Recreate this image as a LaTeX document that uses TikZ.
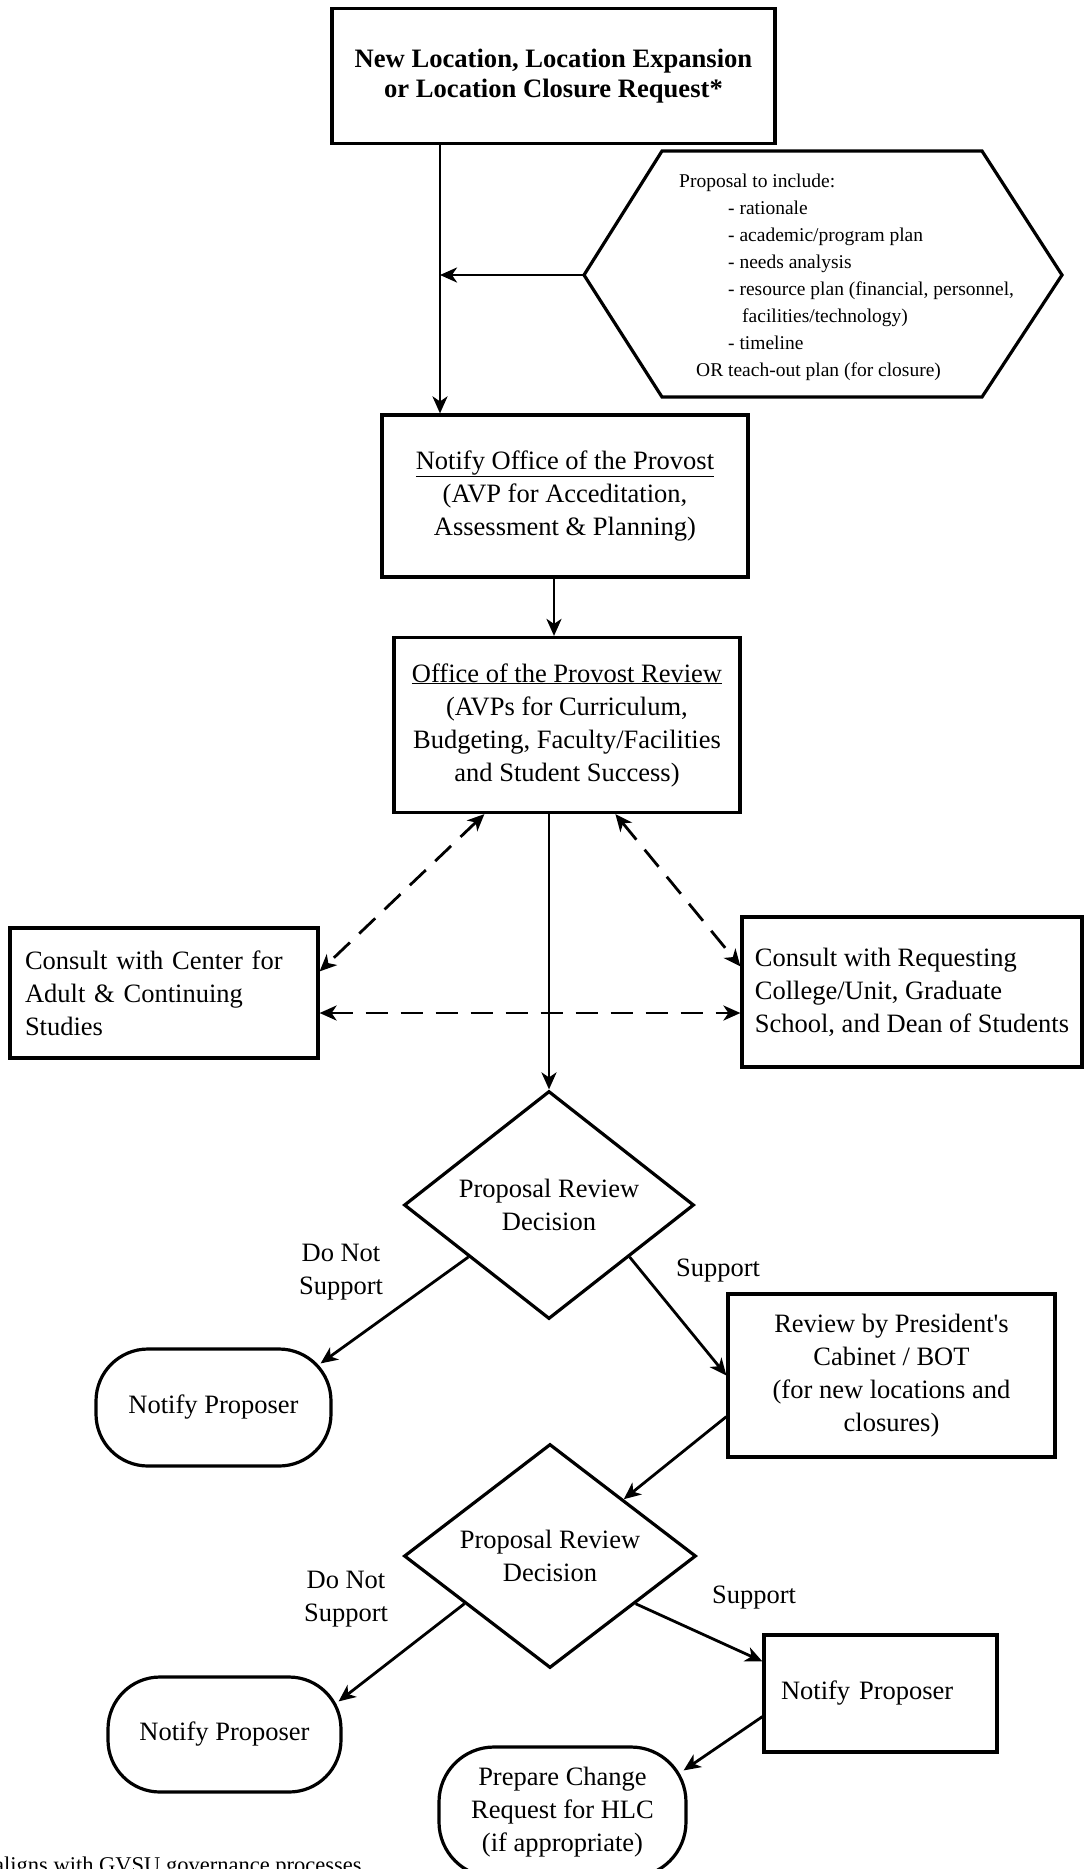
\documentclass[tikz,border=0pt]{standalone}
\usepackage{fontspec}
\setmainfont{Liberation Serif}
\usetikzlibrary{arrows.meta,calc,shapes.geometric}
\newcommand\fsM{\fontsize{26.5}{33}\selectfont}
\newcommand\fsB{\fontsize{26.6}{30}\selectfont\bfseries}
\newcommand\fsS{\fontsize{19.5}{27}\selectfont}
\tikzset{
  box/.style={draw, line width=3.2pt, inner sep=0pt, align=center, font=\fsM},
  stadium/.style={box, rounded corners=52pt},
  dec/.style={draw, diamond, shape aspect=1.3, line width=3.2pt, inner sep=0pt, align=center, font=\fsM},
  lbl/.style={font=\fsM, align=center, inner sep=0pt},
  arr/.style={line width=2.8pt, -{Stealth[length=17pt,width=15pt,inset=5pt]}},
  darr/.style={line width=2.8pt, dash pattern=on 22pt off 13pt, {Stealth[length=17pt,width=15pt,inset=5pt]}-{Stealth[length=17pt,width=15pt,inset=5pt]}}
}
\begin{document}
\begin{tikzpicture}[x=1pt,y=-1pt]
\useasboundingbox (0,0) rectangle (1084,1869);

% top request box
\node[box, font=\fsB, minimum width=443pt, minimum height=135pt] (req) at (553.5,76) {New Location, Location Expansion\\or Location Closure Request*};

% hexagon
\coordinate (hexL) at (584,275);
\draw[line width=3.2pt, line join=miter] (hexL) -- (662,151) -- (982,151) -- (1062,275) -- (982,397) -- (662,397) -- cycle;
\node[font=\fsS, align=left, anchor=west, inner sep=0pt] (hex) at (679,277) {Proposal to include:\\
\hspace*{49pt}- rationale\\
\hspace*{49pt}- academic/program plan\\
\hspace*{49pt}- needs analysis\\
\hspace*{49pt}- resource plan (financial, personnel,\\
\hspace*{63pt}facilities/technology)\\
\hspace*{49pt}- timeline\\
\hspace*{17pt}OR teach-out plan (for closure)};

\coordinate (j1) at (440,275);

% provost boxes
\node[box, minimum width=366pt, minimum height=162pt] (prov) at (565,496) {\underline{Notify Office of the Provost}\\(AVP for Acceditation,\\Assessment \& Planning)};
\node[box, minimum width=346pt, minimum height=175pt] (rev) at (567,725) {\underline{Office of the Provost Review}\\(AVPs for Curriculum,\\Budgeting, Faculty/Facilities\\and Student Success)};

% consult boxes
\node[box, minimum width=308pt, minimum height=130pt, text width=278pt, inner xsep=15pt, align=left] (cace) at (164,993) {Consult with Center for\\Adult \& Continuing\\Studies};
\node[box, minimum width=340pt, minimum height=150pt, align=left] (crc) at (912,992) {Consult with Requesting\\College/Unit, Graduate\\School, and Dean of Students};

% decisions
\node[dec, minimum width=290pt, minimum height=228pt] (d1) at (549,1205) {Proposal Review\\Decision};
\node[dec, minimum width=292pt, minimum height=224pt] (d2) at (550,1556) {Proposal Review\\Decision};

% labels
\node[lbl] (dn1) at (341,1272) {Do Not\\Support};
\node[lbl] (s1) at (718,1271) {Support};
\node[lbl] (dn2) at (346,1599) {Do Not\\Support};
\node[lbl] (s2) at (754,1598) {Support};

% outcome nodes
\node[stadium, minimum width=235pt, minimum height=117pt] (np1) at (213.5,1407.5) {Notify Proposer};
\node[box, minimum width=327pt, minimum height=163pt] (pres) at (891.5,1375.5) {Review by President\textquotesingle s\\Cabinet / BOT\\(for new locations and\\closures)};
\node[stadium, minimum width=233pt, minimum height=115pt] (np2) at (224.5,1734.5) {Notify Proposer};
\node[box, minimum width=233pt, minimum height=117pt, text width=199pt, inner xsep=17pt, align=left] (nb) at (880.5,1693.5) {Notify Proposer};
\node[box, rounded corners=55pt, minimum width=247pt, minimum height=130pt] (prep) at (562.5,1812) {Prepare Change\\Request for HLC\\(if appropriate)};

% footer (cut by page edge)
\node[font=\fontsize{22.5}{26}\selectfont, anchor=base west, inner sep=0pt] (foot) at (-6,1872) {aligns with GVSU governance processes};

% connectors
\draw[arr] (hexL) -- (j1);
\draw[arr] (req.south -| j1) -- (prov.north -| j1);
\draw[arr] ([xshift=-11pt]prov.south) -- ([xshift=-11pt]prov.south |- rev.north);
\draw[arr] (rev.south -| d1.north) -- (d1.north);
\draw[darr] ($(rev.south west)+(92,0)$) -- ($(cace.north east)+(0,45)$);
\draw[darr] ($(rev.south west)+(223,0)$) -- ($(crc.north west)+(0,51)$);
\coordinate (h1) at ($(cace.east)+(0,20)$);
\draw[darr] (h1) -- (h1 -| crc.west);
\draw[arr] ($(d1.west)!0.45!(d1.south)$) -- ($(np1.north east)+(-12,16)$);
\draw[arr] ($(d1.east)!0.45!(d1.south)$) -- (pres.west);
\draw[arr] ($(pres.south west)+(0,-42)$) -- (d2.north east);
\draw[arr] ($(d2.west)!0.42!(d2.south)$) -- ($(np2.north east)+(-4,26)$);
\draw[arr] ($(d2.east)!0.42!(d2.south)$) -- ($(nb.north west)+(0,28)$);
\draw[arr] ($(nb.south west)+(0,-37)$) -- ($(prep.north east)+(-4,25)$);
\end{tikzpicture}
\end{document}
